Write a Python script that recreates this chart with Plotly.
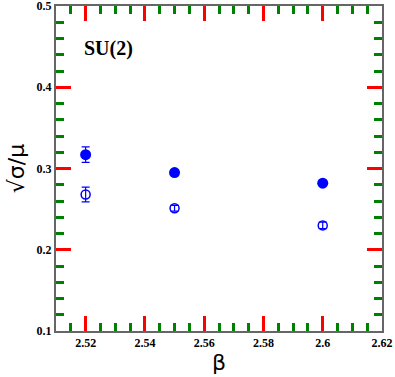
import plotly.graph_objects as go

beta = [2.52, 2.55, 2.60]
filled_y = [0.317, 0.295, 0.282]
filled_err = [0.0095, 0.003, 0.003]
open_y = [0.268, 0.251, 0.230]
open_err = [0.009, 0.0035, 0.004]

blue = "#0000ff"
tickfont = dict(family="Liberation Serif", size=12, color="black", weight="bold")

fig = go.Figure()
fig.add_trace(go.Scatter(
    x=beta, y=filled_y, mode="markers",
    marker=dict(symbol="circle", size=11, color=blue),
    error_y=dict(type="data", array=filled_err, color=blue, thickness=1.2, width=4),
    showlegend=False))
fig.add_trace(go.Scatter(
    x=beta, y=open_y, mode="markers",
    marker=dict(symbol="circle-open", size=9, color=blue, line=dict(width=1.5, color=blue)),
    error_y=dict(type="data", array=open_err, color=blue, thickness=1.2, width=4),
    showlegend=False))

# ticks made loud on purpose to see whether they are drawn at all
fig.update_xaxes(
    range=[2.51, 2.62], tick0=2.52, dtick=0.02,
    showline=True, linecolor="#666666", linewidth=2, mirror="allticks",
    ticks="inside", ticklen=15, tickwidth=3, tickcolor="red",
    minor=dict(dtick=0.005, ticks="inside", ticklen=8, tickcolor="green"),
    tickfont=tickfont, automargin=False, ticklabeloverflow="allow",
    title=dict(text="β", font=dict(family="DejaVu Sans", size=22, color="black"), standoff=2))
fig.update_yaxes(
    range=[0.1, 0.5], tick0=0.1, dtick=0.1,
    showline=True, linecolor="#666666", linewidth=2, mirror="allticks",
    ticks="inside", ticklen=15, tickwidth=3, tickcolor="red",
    minor=dict(dtick=0.02, ticks="inside", ticklen=8, tickcolor="green"),
    tickfont=tickfont, automargin=False, ticklabeloverflow="allow",
    title=dict(text="√σ/μ", font=dict(family="DejaVu Sans", size=22, color="black"), standoff=6))

fig.add_annotation(
    x=0.08, y=0.87, xref="paper", yref="paper", text="<b>SU(2)</b>", showarrow=False,
    xanchor="left", yanchor="middle",
    font=dict(family="Liberation Serif", size=20, color="black"))

fig.update_layout(
    width=395, height=377, margin=dict(l=56, r=13, t=6, b=46),
    plot_bgcolor="white", paper_bgcolor="white")

fig.write_html("out.html", config={"displayModeBar": False},
               post_script="document.body.style.margin='0';")
